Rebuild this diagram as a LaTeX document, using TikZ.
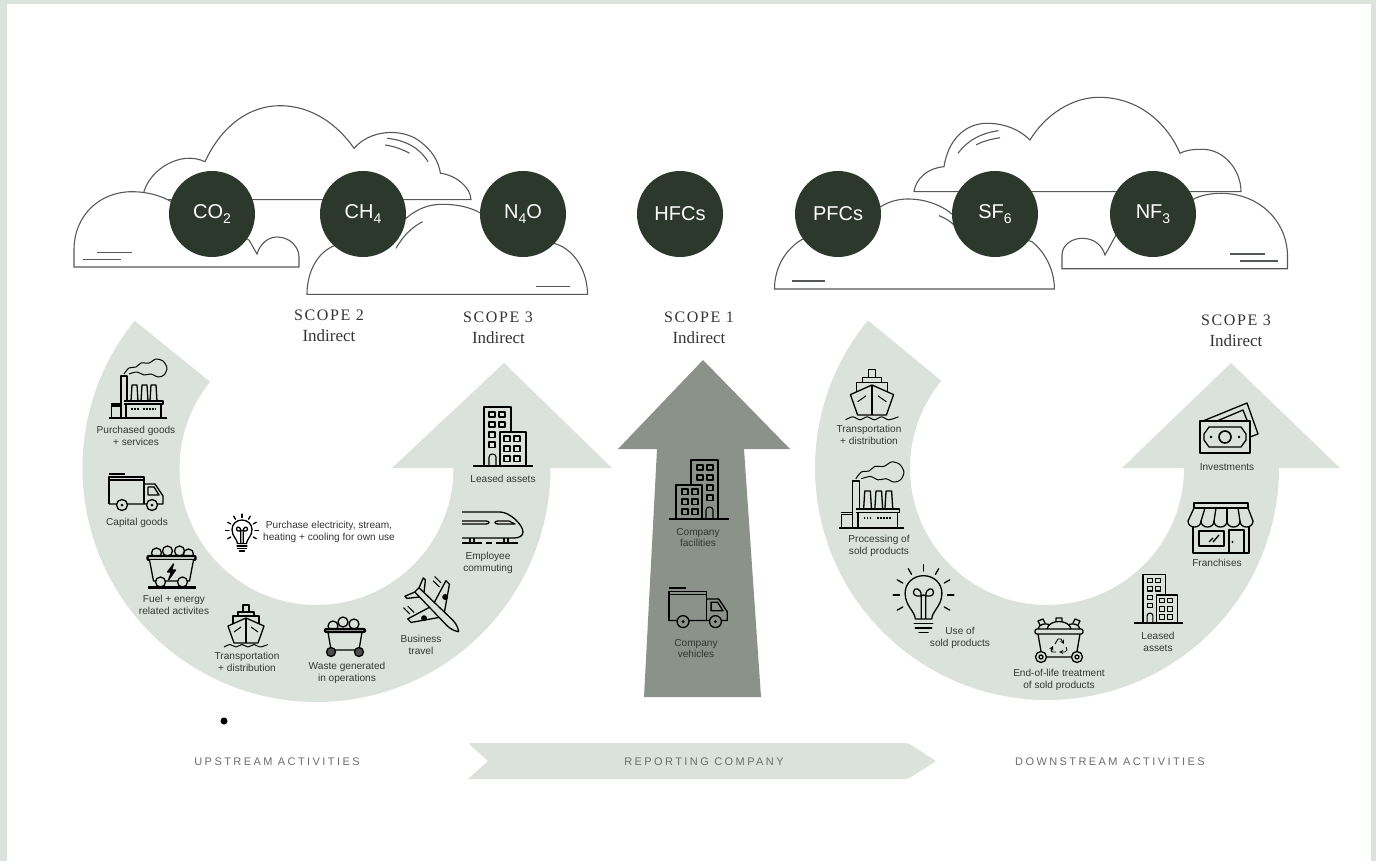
\documentclass[tikz,border=0pt]{standalone}
\usepackage{fontspec}
\setmainfont{Liberation Sans}
\newfontfamily\serifface{Liberation Serif}
\newfontfamily\serifspaced[LetterSpace=10]{Liberation Serif}
\newfontfamily\trackface[LetterSpace=22]{Liberation Sans}
\newcommand{\gassub}[1]{\raisebox{-0.22em}{\fontsize{14}{14}\selectfont #1}}
\definecolor{framegreen}{HTML}{DCE3DD}
\definecolor{bandgreen}{HTML}{DBE2DC}
\definecolor{armgrey}{HTML}{8B928A}
\definecolor{circledark}{HTML}{2C382B}
\definecolor{cloudline}{HTML}{555A56}
\definecolor{labeltext}{HTML}{333633}
\definecolor{tracktext}{HTML}{6A6E6A}
\tikzset{
  every pic/.style={yscale=-1},
  iconline/.style={draw=black,line width=1.3pt,line join=round},
  cloud/.style={draw=cloudline,line width=1.1pt,fill=white},
  hatch/.style={draw=cloudline,line width=1.1pt},
  gas/.style={circle,fill=circledark,minimum size=86pt,inner sep=0pt,text=white,font=\fontsize{20}{22}\selectfont},
  lbl/.style={align=center,inner sep=0pt,text=labeltext,font=\fontsize{10.1}{11.8}\selectfont},
  scopehead/.style={align=center,inner sep=0pt,text=labeltext,font=\serifspaced\fontsize{16}{17}\selectfont},
  scopesub/.style={align=center,inner sep=0pt,text=labeltext,font=\serifface\fontsize{17}{18}\selectfont},
  tracklbl/.style={inner sep=0pt,text=tracktext,font=\trackface\fontsize{11}{12}\selectfont},
  pics/factoryicon/.style={code={
    \draw[iconline] (0,0) -- (58,0);
    \draw[iconline] (2.5,0) -- (2.5,-12) -- (12,-12) (1.5,-14) -- (12,-14);
    \draw[iconline] (12,0) -- (12,-42) -- (18,-42) -- (18,-18);
    \draw[iconline] (15,-17) -- (54,-17) -- (54,-14) -- (15,-14) (17,0) -- (17,-14) (52,0) -- (52,-14);
    \draw[iconline] (22,-17) -- (23,-33) -- (28,-33) -- (29,-17);
    \draw[iconline] (32,-17) -- (33,-33) -- (38,-33) -- (39,-17);
    \draw[iconline] (41,-17) -- (42,-33) -- (47,-33) -- (48,-17);
    \draw[iconline,dash pattern=on 1.5pt off 1.5pt] (22,-9) -- (30,-9) (34,-9) -- (47,-9);
    \draw[iconline,line width=1pt] plot[smooth] coordinates {(15,-44) (20,-50) (27,-51) (32,-55) (40,-55) (47,-59) (54,-57) (58,-50) (55,-43) (49,-41) (42,-44) (35,-43) (28,-46) (20,-44)};
  }},
  pics/truckicon/.style={code={
    \draw[iconline] (0,-36) -- (16,-36);
    \draw[iconline] (0,-6) -- (0,-33) -- (35,-33) -- (35,-6) (0,-30) -- (35,-30);
    \draw[iconline] (35,-26) -- (46,-26) -- (54,-14) -- (54,-6) -- (35,-6) -- (0,-6);
    \draw[iconline] (39,-23) -- (45,-23) -- (50,-15) -- (39,-15) -- cycle;
    \draw[iconline,fill=#1] (13,-5) circle (5.5);
    \draw[iconline,fill=#1] (43,-5) circle (5.5);
    \fill (13,-5) circle (1.5) (43,-5) circle (1.5);
  }},
  pics/coalcart/.style={code={
    \draw[iconline,line width=3pt] (-24,-1.5) -- (24,-1.5);
    \foreach \x/\y in {-15/-36,-4/-38,8/-38,17/-35}
      \draw[iconline,fill=#1] (\x,\y) circle (5);
    \draw[iconline,line width=2.2pt,fill=#1,rounded corners=1pt] (-24,-33) -- (24,-33) -- (24,-29) -- (-24,-29) -- cycle;
    \draw[iconline,fill=#1] (-22,-29) -- (-18,-8) -- (18,-8) -- (22,-29);
    \draw[iconline,fill=#1] (-11,-7) circle (5) (11,-7) circle (5);
    \draw[iconline,fill=black] (2,-25) -- (-4,-17) -- (0,-17) -- (-3,-9) -- (4,-19) -- (0,-19) -- cycle;
  }},
  pics/wastecart/.style={code={
    \foreach \x/\y in {-12/-31,-2/-35,9/-33}
      \draw[iconline,fill=#1] (\x,\y) circle (5);
    \draw[iconline,line width=2.2pt,fill=#1,rounded corners=1pt] (-20,-28) -- (20,-28) -- (20,-25) -- (-20,-25) -- cycle;
    \draw[iconline] (-17,-25) -- (-14,-7) -- (14,-7) -- (17,-25);
    \draw[iconline,fill=black!70] (-14,-5) circle (4.5) (14,-5) circle (4.5);
  }},
  pics/shipicon/.style={code={
    \draw[iconline] (-3,-36) -- (-3,-43) -- (3,-43) -- (3,-36);
    \draw[iconline] (-8,-32) -- (-8,-36) -- (8,-36) -- (8,-32);
    \draw[iconline] (-13,-24) -- (-13,-32) -- (13,-32) -- (13,-24);
    \draw[iconline,fill=#1] (-18,-22) -- (0,-30) -- (18,-22) -- (12,-5) -- (-12,-5) -- cycle;
    \draw[iconline] (0,-30) -- (0,-5);
    \draw[iconline,line width=1pt] (-12,-16) -- (-5,-21) (12,-16) -- (5,-21);
    \draw[iconline,line width=1pt] plot[smooth] coordinates {(-22,-1) (-16,-3.5) (-10,-1) (-4,-3.5) (2,-1) (8,-3.5) (14,-1) (22,-3.5)};
  }},
  pics/planeicon/.style={code={
    \draw[iconline,fill=#1] (8,-4) -- (-8,-27) -- (-13,-27) -- (-6,-4) (8,4) -- (-8,27) -- (-13,27) -- (-6,4);
    \draw[iconline,fill=#1] (-20,-3) -- (-28,-13) -- (-31,-13) -- (-27,-3) (-20,3) -- (-28,13) -- (-31,13) -- (-27,3);
    \draw[iconline,fill=#1] (-27,-3) -- (20,-4) .. controls (26,-4) and (31,-1) .. (32,0) .. controls (31,1) and (26,4) .. (20,4) -- (-27,3) -- cycle;
    \fill (-2,-15) circle (3) (-2,15) circle (3);
    \draw[iconline,line width=1pt] (-15,-22) -- (-24,-22) (-13,-18) -- (-22,-18) (-15,22) -- (-24,22) (-13,18) -- (-22,18);
  }},
  pics/trainicon/.style={code={
    \draw[iconline] (0,-32) -- (38,-32) .. controls (48,-32) and (61,-19) .. (61,-12) .. controls (61,-8) and (57,-6) .. (52,-6) -- (0,-6);
    \draw[iconline] (0,-23) -- (24,-23) .. controls (28,-23) and (28,-20) .. (24,-20) -- (0,-20);
    \draw[iconline] (36,-20) .. controls (32,-20) and (32,-23) .. (36,-23) -- (47,-23) -- (53,-20) -- cycle;
    \draw[iconline] (0,-1) -- (20,-1) (24,-1) -- (30,-1) (34,-1) -- (56,-1);
    \draw[iconline] (8,-6) -- (8,-1) (12,-6) -- (12,-1) (42,-6) -- (42,-1) (46,-6) -- (46,-1);
  }},
  pics/buildingicon/.style={code={
    \draw[iconline,line width=1.6pt] (0,0) -- (60,0);
    \draw[iconline] (11,0) -- (11,-59) -- (38,-59) -- (38,-34);
    \draw[iconline] (27,0) -- (27,-34) -- (53,-34) -- (53,0);
    \foreach \x in {16,26} \foreach \y in {-54,-44}
      \draw[iconline,line width=1.1pt] (\x,\y) rectangle +(6,5);
    \foreach \y in {-34,-24}
      \draw[iconline,line width=1.1pt] (16,\y) rectangle +(6,5.5);
    \foreach \x in {31,41} \foreach \y in {-30,-20,-10}
      \draw[iconline,line width=1.1pt] (\x,\y) rectangle +(6,5.5);
    \draw[iconline,line width=1.1pt] (16,0) -- (16,-9) .. controls (16,-13) and (23,-13) .. (23,-9) -- (23,0);
  }},
  pics/bulbicon/.style={code={
    \draw[iconline] (-9,26) .. controls (-9,18) and (-20,12) .. (-20,-2) .. controls (-20,-13) and (-11,-21) .. (0,-21) .. controls (11,-21) and (20,-13) .. (20,-2) .. controls (20,12) and (9,18) .. (9,26) -- cycle;
    \draw[iconline] (-2.5,26) -- (-2.5,1) .. controls (-2,-8) and (-11,-9) .. (-11,-3) .. controls (-11,2) and (-4,2) .. (0,0) .. controls (4,2) and (11,2) .. (11,-3) .. controls (11,-9) and (2,-8) .. (2.5,1) -- (2.5,26);
    \draw[iconline,line cap=round] (-10,31) -- (10,31) (-9,36) -- (9,36) (-5,41) -- (5,41);
    \foreach \a in {-90,-60,-120,-30,-150,0,180,30,150}
      \draw[iconline,line cap=round] (\a:26) -- (\a:33);
  }},
  pics/binicon/.style={code={
    \draw[iconline] (-12,-34) .. controls (-10,-44) and (10,-44) .. (12,-34);
    \draw[iconline] (-21,-34) .. controls (-20,-39) and (-14,-40) .. (-10,-38.5) (21,-34) .. controls (20,-39) and (14,-40) .. (10,-38.5);
    \draw[iconline] (-3,-41.5) -- (-3,-45) -- (3,-45) -- (3,-41.5) (-19,-38) -- (-21,-42) -- (-16,-44) -- (-14,-40) (19,-38) -- (21,-42) -- (16,-44) -- (14,-40);
    \draw[iconline,rounded corners=2pt] (-24,-34) -- (24,-34) -- (24,-29) -- (-24,-29) -- cycle;
    \draw[iconline] (-21,-29) -- (-17,-6) -- (17,-6) -- (21,-29);
    \draw[iconline,fill=#1] (-18,-6) circle (5.5) (18,-6) circle (5.5);
    \draw[iconline,fill=#1] (-18,-6) circle (2) (18,-6) circle (2);
    \draw[iconline,line width=0.9pt,-stealth] (-4,-19) -- (-1,-24) -- (2,-24) -- (5,-19);
    \draw[iconline,line width=0.9pt,-stealth] (7,-16) -- (8,-13) -- (6,-11) -- (0,-11);
    \draw[iconline,line width=0.9pt,-stealth] (-3,-11) -- (-7,-11) -- (-8,-13) -- (-6,-17);
  }},
  pics/moneyicon/.style={code={
    \draw[iconline] (3,-32) -- (47,-50) -- (58,-19) -- (50,-16);
    \draw[iconline] (17,-32) -- (43,-43) -- (50,-25);
    \draw[iconline,line width=1.8pt,fill=#1] (0,0) rectangle (50,-32);
    \draw[iconline] (9,-26) -- (41,-26) -- (46,-19) -- (46,-13) -- (41,-6) -- (9,-6) -- (4,-13) -- (4,-19) -- cycle;
    \draw[iconline,line width=1.6pt] (25,-16) circle (6);
    \fill (11,-16) circle (1.4) (39,-16) circle (1.4);
  }},
  pics/shopicon/.style={code={
    \draw[iconline,line width=1.8pt] (6,-50) rectangle (60,-45);
    \foreach \x/\t in {0/6,13/17,26/28,39/39,52/50,65/60}
      \draw[iconline] (\t,-45) -- (\x,-32);
    \foreach \x in {0,13,26,39,52}
      \draw[iconline] (\x,-32) .. controls (\x,-24) and (\x+13,-24) .. (\x+13,-32);
    \draw[iconline,line width=1.8pt] (5,-27) -- (5,0) -- (61,0) -- (61,-27);
    \draw[iconline,line width=1.8pt] (11,-22) rectangle (36,-7);
    \draw[iconline,line width=1.8pt] (41,0) -- (41,-23) -- (56,-23) -- (56,0);
    \draw[iconline] (21,-11) -- (25,-15) (25,-11) -- (31,-18);
    \fill (44.5,-11) circle (1.1);
  }},
}
\begin{document}
\begin{tikzpicture}[x=1pt,y=1pt,yscale=-1]
  \useasboundingbox (0,0) rectangle (1376,861);
  \fill[framegreen] (0,0) rectangle (1376,861);
  \fill[white] (7,4) rectangle (1371,861);

  % curved arrows
  \fill[bandgreen] (316.5,468) ++(-141:234pt) arc[start angle=-141,end angle=-360,radius=234pt]
    -- (612,468) -- (504,363) -- (392,468) -- (453.5,468)
    arc[start angle=-360,end angle=-141,radius=137pt] -- cycle;
  \fill[bandgreen] (1047,468) ++(-140.5:232pt) arc[start angle=-140.5,end angle=-360,radius=232pt]
    -- (1340,468) -- (1231,363) -- (1122,468) -- (1184,468)
    arc[start angle=-360,end angle=-140.5,radius=137pt] -- cycle;
  \fill[armgrey] (703,360) -- (790,449) -- (744,449) -- (761,697) -- (644,697) -- (657,449) -- (618,449) -- cycle;
  \fill[bandgreen,rounded corners=3pt] (468,743) [sharp corners] -- (488,761) -- (468,779) [rounded corners=3pt] -- (908,779) [sharp corners] -- (936,761) [rounded corners=3pt] -- (908,743) -- cycle;
  \fill[black] (224,721) circle (3.5);

  % clouds
  \draw[cloud] (144,191.7) .. controls (150,170) and (180,150) .. (205,161.7) .. controls (222,125) and (250,105.7) .. (280,105.7) .. controls (312,105.7) and (338,125) .. (354,148.3) .. controls (370,130) and (400,128) .. (418,140) .. controls (432,150) and (438,160) .. (440.5,173.3) .. controls (456,175) and (471,188) .. (471,199.7) -- (144,199.7) -- cycle;
  \draw[cloud] (74,267) -- (74,250) .. controls (74,215) and (100,191.7) .. (132,191.7) .. controls (146,191.7) and (160,195) .. (172,202) -- (249,240) -- (257,254) .. controls (260,244) and (268,237) .. (277,237) .. controls (290,237) and (299,247) .. (299,257) -- (299,267) -- cycle;
  \draw[cloud] (307,294.3) .. controls (307,275) and (315,255) .. (332,246.7) -- (406,218.3) .. controls (418,208) and (430,204.3) .. (442,204.3) .. controls (457,204.3) and (470,207) .. (481,213.3) -- (556,244) .. controls (575,250) and (587.5,272) .. (587.5,294.3) -- cycle;
  \draw[cloud] (914,191.7) .. controls (916,178) and (928,168) .. (944,166.7) .. controls (948,140) and (965,123.3) .. (987,123.3) .. controls (1005,123.3) and (1020,130) .. (1030,140) .. controls (1045,115) and (1072,97.3) .. (1099,97.3) .. controls (1140,97.3) and (1168,125) .. (1180,153.3) .. controls (1188,149.3) and (1196,149.3) .. (1202.5,149.3) .. controls (1224,149.3) and (1241,170) .. (1241,191.7) -- cycle;
  \draw[cloud] (1062,268.7) -- (1062,255) .. controls (1062,245) and (1072,238.3) .. (1082,238.3) .. controls (1094,238.3) and (1102,245) .. (1105,255) -- (1116,235) -- (1192,200) .. controls (1200,195) and (1212,193.3) .. (1221,193.3) .. controls (1258,193.3) and (1287.5,220) .. (1287.5,256.7) -- (1287.5,268.7) -- cycle;
  \draw[cloud] (774.5,289) .. controls (774.5,268) and (785,250) .. (801,240) -- (880.5,206.7) .. controls (890,201) and (899,199) .. (908,199) .. controls (925,199) and (942,205) .. (953,215) -- (1032,241.7) .. controls (1045,252) and (1054.4,270) .. (1054.4,289) -- cycle;
  \draw[hatch] (97,252.7) -- (132,252.7) (83,259.7) -- (121,259.7);
  \draw[hatch] (536,286.7) -- (570,286.7);
  \draw[hatch] (792,281) -- (825,281);
  \draw[hatch] (1230,254) -- (1264.5,254) (1240,261) -- (1278,261);
  \draw[hatch] (387,138.3) .. controls (405,140) and (420,148) .. (428,161.7);
  \draw[hatch] (385,145) .. controls (393,146) and (402,149) .. (409.5,153.3);
  \draw[hatch] (958,153.3) .. controls (966,142) and (980,133) .. (998.6,130.7);
  \draw[hatch] (976,145) .. controls (983,141) and (992,139) .. (1000,137.7);
  \draw[hatch] (396,248.3) .. controls (403,236) and (412,227) .. (422.6,221.7);
  \draw[hatch] (939,215.7) .. controls (945,218) and (950,221) .. (954,225);

  % gases
  \node[gas] (coTwo) at (212,214) {CO\gassub{2}};
  \node[gas] (chFour) at (363,214) {CH\gassub{4}};
  \node[gas] (nFourO) at (523,214) {N\gassub{4}O};
  \node[gas] (hfcs) at (680,214) {HFCs};
  \node[gas] (pfcs) at (838,214) {PFCs};
  \node[gas] (sfSix) at (995,214) {SF\gassub{6}};
  \node[gas] (nfThree) at (1153,214) {NF\gassub{3}};

  % scope headings
  \node[scopehead] (scTwo) at (329,315) {SCOPE 2};
  \node[scopesub] (scTwoSub) at (329,336) {Indirect};
  \node[scopehead] (scThreeA) at (498,317) {SCOPE 3};
  \node[scopesub] (scThreeASub) at (498.5,338) {Indirect};
  \node[scopehead] (scOne) at (699,317) {SCOPE 1};
  \node[scopesub] (scOneSub) at (699,338) {Indirect};
  \node[scopehead] (scThreeB) at (1236,320) {SCOPE 3};
  \node[scopesub] (scThreeBSub) at (1236,341) {Indirect};

  % upstream
  \pic at (109,418) {factoryicon};
  \node[lbl] (lblPurchased) at (136,435.5) {Purchased goods\\+ services};
  \pic at (109,510) {truckicon=bandgreen};
  \node[lbl] (lblCapital) at (137,523) {Capital goods};
  \pic at (171.5,589) {coalcart=bandgreen};
  \node[lbl] (lblFuel) at (174,604.5) {Fuel + energy\\related activites};
  \pic at (246,648) {shipicon=bandgreen};
  \node[lbl] (lblTransA) at (247,662) {Transportation\\+ distribution};
  \pic at (345,657) {wastecart=bandgreen};
  \node[lbl] (lblWaste) at (347,672.5) {Waste generated\\in operations};
  \pic[rotate=-45] at (436,609) {planeicon=bandgreen};
  \node[lbl] (lblBusiness) at (421,645) {Business\\travel};
  \pic at (462,544) {trainicon};
  \node[lbl] (lblCommute) at (488,562.5) {Employee\\commuting};
  \pic at (473,466) {buildingicon};
  \node[lbl] (lblLeasedA) at (503,479) {Leased assets};
  \pic[scale=0.5] at (242,530.5) {bulbicon};
  \node[lbl] (lblElectric) at (329,532) {Purchase electricity, stream,\\heating + cooling for own use};

  % reporting company
  \pic[xscale=-1] at (729,519) {buildingicon};
  \node[lbl] (lblFacilities) at (698,537.5) {Company\\facilities};
  \pic[scale=1.08] at (669,627) {truckicon=armgrey};
  \node[lbl] (lblVehicles) at (696,648.5) {Company\\vehicles};

  % downstream
  \pic[scale=1.2] at (872,421) {shipicon=bandgreen};
  \node[lbl] (lblTransB) at (869,434.5) {Transportation\\+ distribution};
  \pic[scale=1.12] at (839,528) {factoryicon};
  \node[lbl] (lblProcessing) at (879,546) {Processing of\\sold products};
  \pic[scale=0.92] at (923.5,595) {bulbicon};
  \node[lbl] (lblUse) at (960,637.5) {Use of\\sold products};
  \pic at (1059,663) {binicon=bandgreen};
  \node[lbl] (lblEnd) at (1059,680) {End-of-life treatment\\of sold products};
  \pic[scale=0.82] at (1134,623) {buildingicon};
  \node[lbl] (lblLeasedB) at (1158,642) {Leased\\assets};
  \pic at (1188,553) {shopicon};
  \node[lbl] (lblFranchises) at (1217,563) {Franchises};
  \pic at (1200,453) {moneyicon=bandgreen};
  \node[lbl] (lblInvest) at (1227,467) {Investments};

  % bottom row
  \node[tracklbl] (upstream) at (277,762) {UPSTREAM ACTIVITIES};
  \node[tracklbl] (reporting) at (704,762) {REPORTING COMPANY};
  \node[tracklbl] (downstream) at (1110,762) {DOWNSTREAM ACTIVITIES};
\end{tikzpicture}
\end{document}
